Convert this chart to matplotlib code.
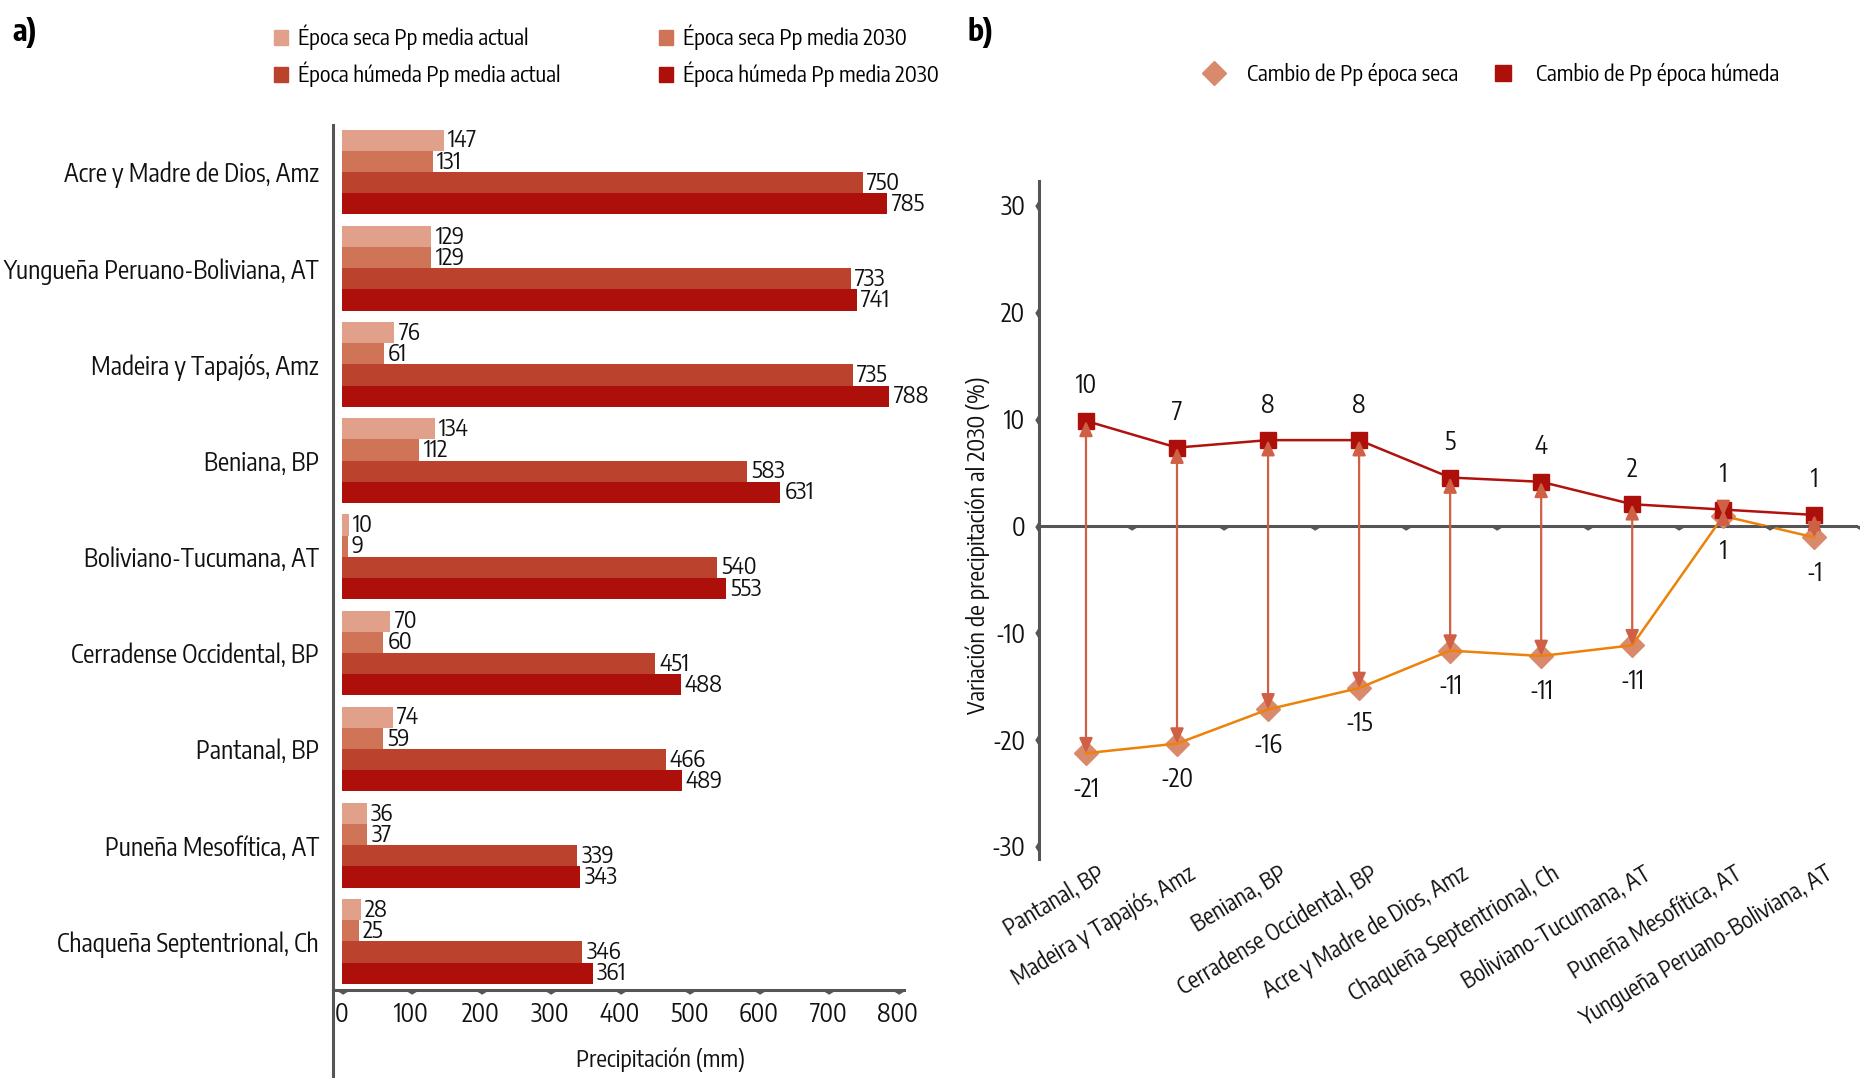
import numpy as np
import matplotlib.pyplot as plt
from matplotlib.lines import Line2D
from matplotlib.patches import Patch

plt.rcParams['font.family'] = ['Encode Sans Condensed', 'Roboto Condensed', 'DejaVu Sans']

# ---- panel a data (top to bottom)
regiones_a = ['Acre y Madre de Dios, Amz', 'Yungueña Peruano-Boliviana, AT', 'Madeira y Tapajós, Amz',
              'Beniana, BP', 'Boliviano-Tucumana, AT', 'Cerradense Occidental, BP', 'Pantanal, BP',
              'Puneña Mesofítica, AT', 'Chaqueña Septentrional, Ch']
seca_actual = [147, 129, 76, 134, 10, 70, 74, 36, 28]
seca_2030 = [131, 129, 61, 112, 9, 60, 59, 37, 25]
humeda_actual = [750, 733, 735, 583, 540, 451, 466, 339, 346]
humeda_2030 = [785, 741, 788, 631, 553, 488, 489, 343, 361]
series_a = ['Época seca Pp media actual', 'Época seca Pp media 2030',
            'Época húmeda Pp media actual', 'Época húmeda Pp media 2030']
ticks_a = [0, 100, 200, 300, 400, 500, 600, 700, 800]

# ---- panel b data
regiones_b = ['Pantanal, BP', 'Madeira y Tapajós, Amz', 'Beniana, BP', 'Cerradense Occidental, BP',
              'Acre y Madre de Dios, Amz', 'Chaqueña Septentrional, Ch', 'Boliviano-Tucumana, AT',
              'Puneña Mesofítica, AT', 'Yungueña Peruano-Boliviana, AT']
cambio_seca = [-21.3, -20.4, -17.2, -15.2, -11.7, -12.2, -11.2, 0.9, -1.1]
cambio_humeda = [9.8, 7.3, 8.0, 8.0, 4.5, 4.1, 2.0, 1.5, 1.0]
etiq_seca = ['-21', '-20', '-16', '-15', '-11', '-11', '-11', '1', '-1']
etiq_humeda = ['10', '7', '8', '8', '5', '4', '2', '1', '1']
ticks_b = [-30, -20, -10, 0, 10, 20, 30]

colores_a = ['#e0a089', '#d07458', '#bb432d', '#ad100b']
gris = '#555555'
negro = '#111111'
fs = 18
fs_leg = 16

tri_down = [(-1, 0), (1, 0), (0, -0.6)]
tri_left = [(0, 1), (0, -1), (-0.6, 0)]

fig = plt.figure(figsize=(18.6, 10.78), dpi=100)

# ================= panel a
ax = fig.add_axes([333 / 1860, 0, 571 / 1860, 953 / 1078])
y = np.arange(len(regiones_a))
h = 0.22
datos = [seca_actual, seca_2030, humeda_actual, humeda_2030]
for k, vals in enumerate(datos):
    bars = ax.barh(y + (k - 1.5) * h, vals, height=h, color=colores_a[k], label=series_a[k])
    ax.bar_label(bars, padding=3, fontsize=17, color=negro)

ax.set_xlim(-12.3, 809)
ax.set_ylim(9.42, -0.49)
x_axis_y = 8.51
ax.spines['top'].set_visible(False)
ax.spines['right'].set_visible(False)
ax.spines['left'].set_color(gris)
ax.spines['left'].set_linewidth(2.2)
ax.spines['bottom'].set_color(gris)
ax.spines['bottom'].set_linewidth(2.2)
ax.spines['bottom'].set_position(('data', x_axis_y))
ax.set_xticks(ticks_a)
ax.set_yticks(y)
ax.set_yticklabels(regiones_a)
ax.tick_params(axis='x', length=0, pad=8, labelsize=fs, labelcolor=negro)
ax.tick_params(axis='y', length=0, pad=10, labelsize=fs, labelcolor=negro)
ax.plot(ticks_a, [x_axis_y] * len(ticks_a), ls='none', marker=tri_down, ms=9,
        color=gris, clip_on=False, zorder=5)
ax.set_xlabel('Precipitación (mm)', fontsize=17, color=negro)
ax.xaxis.set_label_coords(0.574, 0.032)

fig.legend(handles=[Patch(color=colores_a[0]), Patch(color=colores_a[2]),
                    Patch(color=colores_a[1]), Patch(color=colores_a[3])],
           labels=[series_a[0], series_a[2], series_a[1], series_a[3]],
           ncol=2, loc='upper left', bbox_to_anchor=(274 / 1860, 1 - 25 / 1078),
           frameon=False, fontsize=fs_leg, handlelength=0.65, handleheight=0.65,
           handletextpad=0.45, columnspacing=4.4, labelspacing=0.5,
           borderpad=0, borderaxespad=0)

fig.text(12 / 1860, 1 - 32 / 1078, 'a)', fontsize=22, fontweight='bold', va='center')

# ================= panel b
bx = fig.add_axes([1039 / 1860, 1 - 859 / 1078, 819 / 1860, 678 / 1078])
xb = np.arange(len(regiones_b))
bx.set_xlim(-0.516, 8.48)
bx.set_ylim(-31.2, 32.25)

for i in xb:
    bx.annotate('', xy=(i, cambio_humeda[i]), xytext=(i, cambio_seca[i]),
                arrowprops=dict(arrowstyle='<|-|>,head_length=0.9,head_width=0.4',
                                color='#cf5f45', lw=1.6, shrinkA=0, shrinkB=0), zorder=6)

bx.plot(xb, cambio_seca, ls='none', marker='D', ms=12, color='#d98a6c', zorder=3)
bx.plot(xb, cambio_seca, color='#ec820a', lw=1.8, zorder=4)
bx.plot(xb, cambio_humeda, color='#b0120d', lw=1.8, marker='s', ms=12,
        mfc='#ad100b', mec='#ad100b', zorder=4)

for i in xb:
    bx.annotate(etiq_humeda[i], (i, cambio_humeda[i]), xytext=(0, 25), textcoords='offset points',
                ha='center', va='center', fontsize=fs, color=negro)
    bx.annotate(etiq_seca[i], (i, cambio_seca[i]), xytext=(0, -26), textcoords='offset points',
                ha='center', va='center', fontsize=fs, color=negro)

for s in ['top', 'right', 'bottom']:
    bx.spines[s].set_visible(False)
bx.spines['left'].set_color(gris)
bx.spines['left'].set_linewidth(2.2)
bx.axhline(0, color=gris, lw=2.2, zorder=2)
bx.set_yticks(ticks_b)
bx.set_yticklabels([str(t) for t in ticks_b])
bx.tick_params(axis='y', length=0, pad=10, labelsize=fs, labelcolor=negro)
bx.set_xticks([])
bx.plot([-0.516] * len(ticks_b), ticks_b, ls='none', marker=tri_left, ms=9,
        color=gris, clip_on=False, zorder=5)
bx.plot(xb + 0.5, [0] * len(xb), ls='none', marker=tri_down, ms=9,
        color=gris, clip_on=False, zorder=5)
for i in xb:
    bx.text(i + 0.11, -31.4, regiones_b[i], rotation=31, ha='right', va='top',
            rotation_mode='anchor', fontsize=16.5, color=negro)

bx.set_ylabel('Variación de precipitación al 2030 (%)', fontsize=17, color=negro)
bx.yaxis.set_label_coords(-0.06, 0.463)

fig.legend(handles=[Line2D([], [], ls='none', marker='D', ms=12, color='#d98a6c'),
                    Line2D([], [], ls='none', marker='s', ms=11, color='#ad100b')],
           labels=['Cambio de Pp época seca', 'Cambio de Pp época húmeda'],
           ncol=2, loc='center left', bbox_to_anchor=(1203 / 1860, 1 - 74 / 1078),
           frameon=False, fontsize=fs_leg, handlelength=1.0, handletextpad=1.0,
           columnspacing=1.5, borderpad=0, borderaxespad=0)

fig.text(967 / 1860, 1 - 32 / 1078, 'b)', fontsize=22, fontweight='bold', va='center')

fig.savefig('out.png', dpi=100)
